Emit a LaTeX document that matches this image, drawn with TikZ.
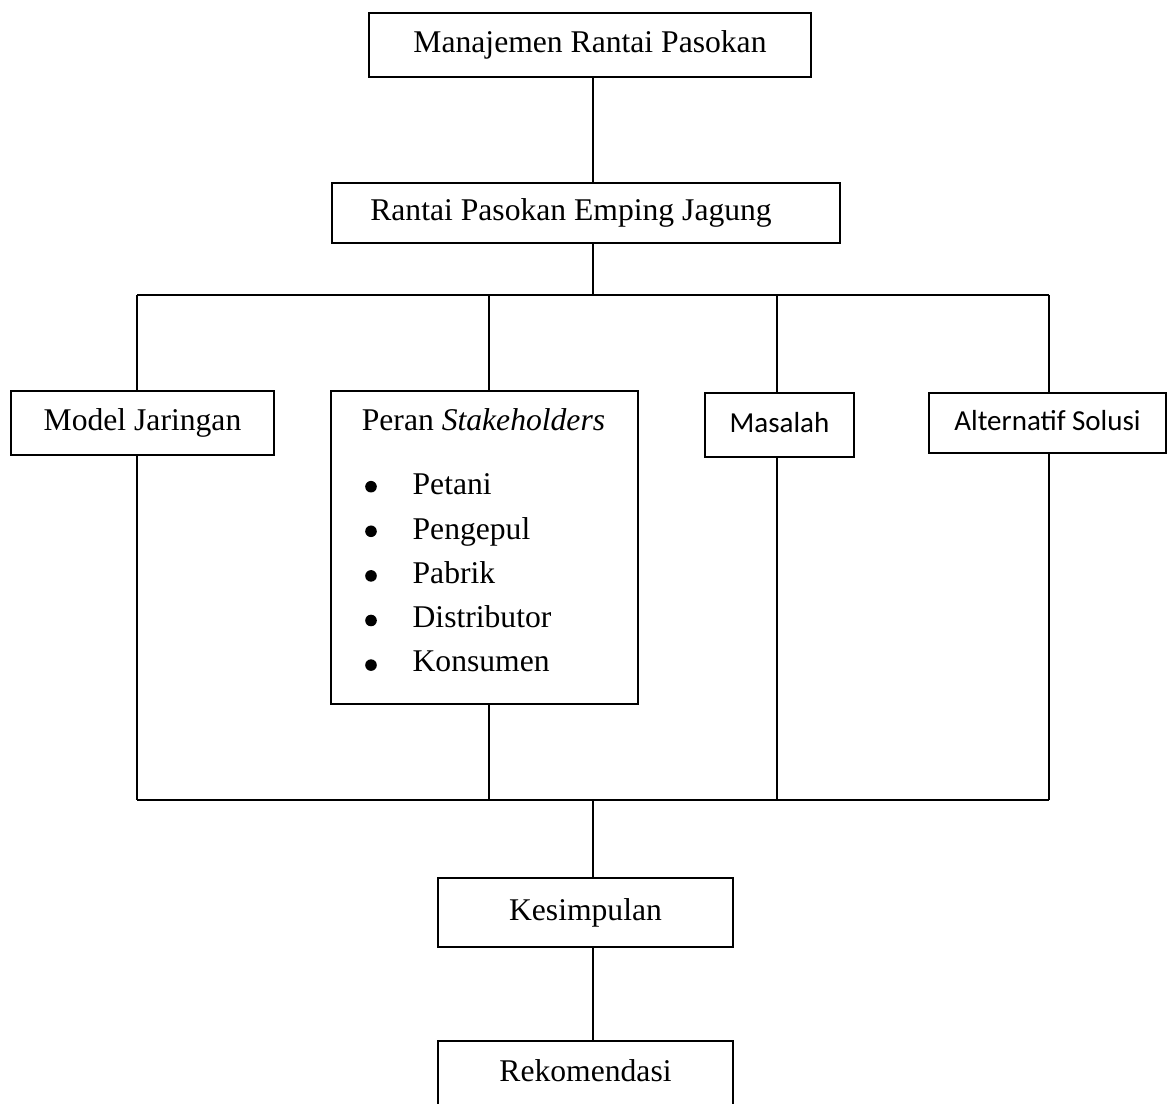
\documentclass[tikz,border=0pt]{standalone}
\usepackage{fontspec}
\setmainfont{Liberation Serif}
\newfontfamily\calibri{Carlito}
\newcommand{\stkitem}[1]{\hspace*{28.9pt}#1}

\begin{document}
\begin{tikzpicture}[x=0.02cm, y=-0.02cm, font=\fontsize{18}{21.6}\selectfont,
  box/.style={draw, line width=1.1pt, inner sep=0pt, text height=12.5pt, text depth=3.9pt},
  sbox/.style={box, font=\calibri\fontsize{16.5}{19.8}\selectfont},
  link/.style={line width=0.7pt}]
\useasboundingbox (0,0) rectangle (1167,1104);

\node[box, minimum width=8.84cm, minimum height=1.28cm] (mrp) at (590,45) {Manajemen Rantai Pasokan};
\node[box, minimum width=10.16cm, minimum height=1.2cm] (rpe) at (586,213) {Rantai Pasokan Emping Jagung\hspace*{17pt}};

\node[box, minimum width=5.26cm, minimum height=1.28cm] (model) at (142.5,423) {Model Jaringan};
\node[box, minimum width=6.14cm, minimum height=6.26cm] (peran) at (484.5,547.5) {};
\node[anchor=base west, inner sep=0pt] (peranlist) at (361.5,431) {\renewcommand{\arraystretch}{1.1667}%
  \begin{tabular}[t]{@{}l@{}}
    Peran \textit{Stakeholders}\\[11.1pt]
    \stkitem{Petani}\\
    \stkitem{Pengepul}\\
    \stkitem{Pabrik}\\
    \stkitem{Distributor}\\
    \stkitem{Konsumen}
  \end{tabular}};
\foreach \i in {0,...,4}
  \fill (371,486.7+44.6*\i) circle (5.8);
\node[sbox, minimum width=2.98cm, minimum height=1.28cm] (masalah) at (779.5,425) {Masalah};
\node[sbox, minimum width=4.74cm, minimum height=1.2cm] (alt) at (1047.5,423) {Alternatif Solusi};

\node[box, minimum width=5.9cm, minimum height=1.38cm] (kes) at (585.5,912.5) {Kesimpulan};
\node[box, minimum width=5.9cm, minimum height=1.3cm] (rek) at (585.5,1073.5) {Rekomendasi};

\coordinate (t0) at (593,295);
\coordinate (t1) at (137,295);
\coordinate (t2) at (489,295);
\coordinate (t3) at (777,295);
\coordinate (t4) at (1049,295);
\coordinate (u0) at (593,800);
\coordinate (u1) at (137,800);
\coordinate (u2) at (489,800);
\coordinate (u3) at (777,800);
\coordinate (u4) at (1049,800);

\draw[link] (mrp.south -| t0) -- (rpe.north -| t0);
\draw[link] (rpe.south -| t0) -- (t0);
\draw[link] (t1) -- (t4);
\foreach \c/\n in {t1/model, t2/peran, t3/masalah, t4/alt}
  \draw[link] (\c) -- (\n.north -| \c);
\foreach \c/\n in {u1/model, u2/peran, u3/masalah, u4/alt}
  \draw[link] (\n.south -| \c) -- (\c);
\draw[link] (u1) -- (u4);
\draw[link] (u0) -- (kes.north -| u0);
\draw[link] (kes.south -| u0) -- (rek.north -| u0);

\end{tikzpicture}
\end{document}
